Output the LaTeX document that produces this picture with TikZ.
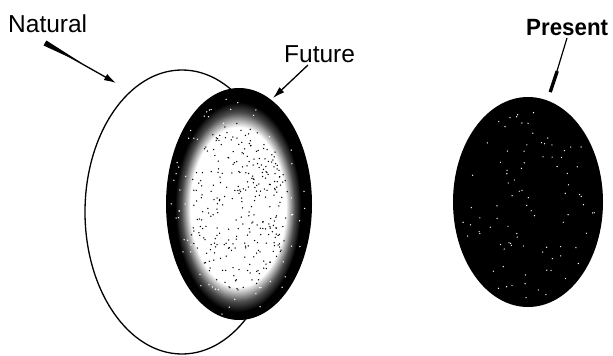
\documentclass[tikz,border=0pt]{standalone}
\usepackage{fontspec}
\usepackage{graphicx}
\setmainfont{Liberation Sans}
\usetikzlibrary{arrows.meta}
\pgfdeclareradialshading{coreshade}{\pgfpoint{0bp}{0bp}}{color(0bp)=(white); color(19bp)=(white); color(22.5bp)=(black!70); color(25bp)=(black); color(50bp)=(black)}
\begin{document}
\begin{tikzpicture}[x=1pt,y=-1pt,
  lbl/.style={inner sep=0pt, anchor=base west, font=\fontsize{24.5}{26}\selectfont},
  blbl/.style={inner sep=0pt, anchor=base west, font=\bfseries\fontsize{23.5}{26}\selectfont},
  pointer/.style={line width=1.3pt, -{Latex[length=12pt,width=7pt]}},
  outline/.style={line width=1.3pt}]
\useasboundingbox (0,0) rectangle (613,356);
% ellipses
\draw[outline] (182,212) ellipse [x radius=97pt, y radius=142pt];
\fill[black] (239,204) ellipse [x radius=73pt, y radius=116pt];
\shade[shading=coreshade] (238,207) ellipse [x radius=63pt, y radius=105pt];
\fill[black] (528,202) ellipse [x radius=75pt, y radius=105pt];
% speckles
\pgfmathsetseed{17}
\foreach \i in {1,...,300}{
  \pgfmathsetmacro{\r}{sqrt(rnd)*0.8}
  \pgfmathsetmacro{\a}{360*rnd}
  \fill[black] ({238+63*\r*cos(\a)},{207+105*\r*sin(\a)}) circle[radius=0.75pt];
}
\foreach \i in {1,...,60}{
  \pgfmathsetmacro{\r}{0.82+0.25*rnd}
  \pgfmathsetmacro{\a}{360*rnd}
  \fill[white] ({238+63*\r*cos(\a)},{207+105*\r*sin(\a)}) circle[radius=0.75pt];
}
\foreach \i in {1,...,90}{
  \pgfmathsetmacro{\r}{sqrt(rnd)*0.9}
  \pgfmathsetmacro{\a}{360*rnd}
  \fill[white] ({528+75*\r*cos(\a)},{205+105*\r*sin(\a)}) circle[radius=0.7pt];
}
% labels
\node[lbl] (natural) at (8,32) {Natural};
\node[lbl] (future) at (284,62) {Future};
\node[blbl] (present) at (526,35) {\scalebox{0.95}[1]{Present}};
% arrow anchors
\coordinate (natS) at (45,43);
\coordinate (natT) at (116,83);
\coordinate (futS) at (308,65);
\coordinate (futT) at (273,98);
\coordinate (preS) at (567,38);
\coordinate (preM) at (557,71);
\coordinate (preT) at (550,92);
% Natural arrow (tapered tail)
\fill (43.6,45.5) -- (46.4,40.5) -- (82,63.2) -- cycle;
\draw[pointer] (natS) -- (natT);
% Future arrow
\draw[pointer] (futS) -- (futT);
% Present pointer
\draw[line width=1.2pt] (preS) -- (preM);
\fill (555.6,70.6) -- (558.8,71.6) -- (551.8,92.6) -- (548.6,91.6) -- cycle;
\end{tikzpicture}
\end{document}
